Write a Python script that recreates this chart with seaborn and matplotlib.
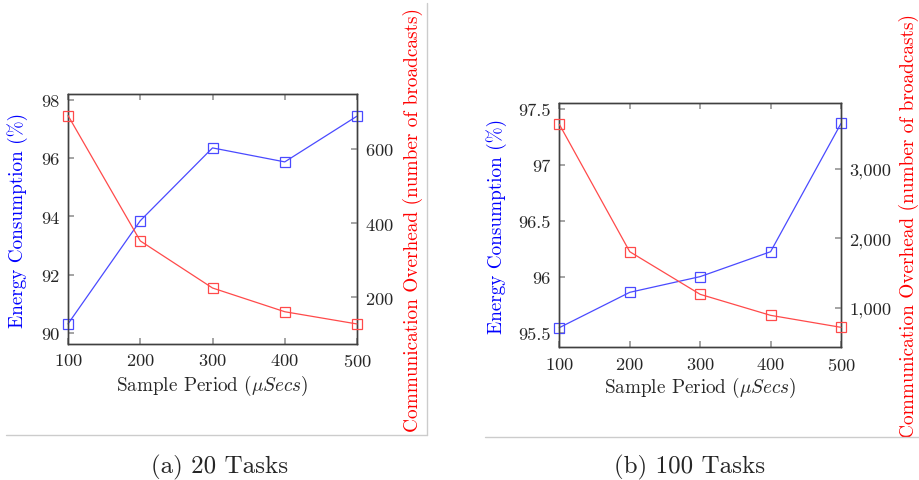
import numpy as np
import pandas as pd
import matplotlib
matplotlib.use("Agg")
import matplotlib.pyplot as plt
from matplotlib.lines import Line2D
from matplotlib.ticker import FuncFormatter
import seaborn as sns

# ── data ─────────────────────────────────────────────────────────────────────

sample_period = [100, 200, 300, 400, 500]

energy_20 = [90.31, 93.85, 96.35, 95.87, 97.44]
overhead_20 = [690, 352, 225, 161, 128]

energy_100 = [95.55, 95.865, 96.005, 96.227, 97.37]
overhead_100 = [3645, 1808, 1193, 890, 717]

captions = ["(a) 20 Tasks", "(b) 100 Tasks"]

# ── style ────────────────────────────────────────────────────────────────────

sns.set_theme(style="ticks")
plt.rcParams["font.family"] = ["cmr10", "DejaVu Serif"]
plt.rcParams["mathtext.fontset"] = "cm"
plt.rcParams["axes.formatter.use_mathtext"] = True
plt.rcParams["axes.unicode_minus"] = False

BLUE = "#4a4aff"
RED = "#ff4a4a"
TICK_FS = 13.3
LAB_FS = 13.8
LAB2_FS = 13.9
CAP_FS = 18

fig = plt.figure(figsize=(9.19, 4.81), dpi=100)

W, H = 919, 481


def box(x0, y0, x1, y1):
    return [x0 / W, 1 - y1 / H, (x1 - x0) / W, (y1 - y0) / H]


panels = [
    dict(px=(68, 95, 357, 345), energy=energy_20, overhead=overhead_20,
         ylim=(89.62, 98.2), yticks=[90, 92, 94, 96, 98],
         ylim2=(74, 748), yticks2=[200, 400, 600],
         lab_x=18, lab2_x=413, xlab_y=386, comma=False),
    dict(px=(559.3, 104.3, 841, 348.3), energy=energy_100, overhead=overhead_100,
         ylim=(95.375, 97.55), yticks=[95.5, 96, 96.5, 97, 97.5],
         ylim2=(429, 3948), yticks2=[1000, 2000, 3000],
         lab_x=497, lab2_x=909, xlab_y=388, comma=True),
]

for p in panels:
    x0, y0, x1, y1 = p["px"]
    ax = fig.add_axes(box(x0, y0, x1, y1))
    ax2 = ax.twinx()

    df = pd.DataFrame({"period": sample_period, "energy": p["energy"], "overhead": p["overhead"]})

    sns.lineplot(data=df, x="period", y="energy", ax=ax, color=BLUE, lw=0.9,
                 marker="s", markersize=7, markerfacecolor="none",
                 markeredgecolor=BLUE, markeredgewidth=0.9, clip_on=False, zorder=3)
    sns.lineplot(data=df, x="period", y="overhead", ax=ax2, color=RED, lw=0.9,
                 marker="s", markersize=7, markerfacecolor="none",
                 markeredgecolor=RED, markeredgewidth=0.9, clip_on=False, zorder=3)

    ax.set_xlim(100, 500)
    ax.set_xticks(sample_period)
    ax.set_ylim(*p["ylim"])
    ax.set_yticks(p["yticks"])
    ax.set_yticklabels([f"{v:g}" for v in p["yticks"]])
    ax2.set_ylim(*p["ylim2"])
    ax2.set_yticks(p["yticks2"])
    if p["comma"]:
        ax2.yaxis.set_major_formatter(FuncFormatter(lambda v, _: f"{int(v):,}"))

    # axis labels, placed by their centre in pixel terms
    w, h = x1 - x0, y1 - y0
    ax.set_xlabel(r"Sample Period ($\mu Secs$)", fontsize=LAB_FS)
    ax.xaxis.set_label_coords(0.5, (y1 - p["xlab_y"]) / h)
    ax.xaxis.label.set_va("center")
    ax.set_ylabel("Energy Consumption (%)", fontsize=LAB_FS, color="blue")
    ax.yaxis.set_label_coords((p["lab_x"] - x0) / w, 0.5)
    ax.yaxis.label.set_va("center")
    ax2.set_ylabel("Communication Overhead (number of broadcasts)", fontsize=LAB2_FS, color="red")
    ax2.yaxis.set_label_coords((p["lab2_x"] - x0) / w, 0.5)
    ax2.yaxis.label.set_va("center")

    ax.tick_params(axis="x", direction="in", top=True, length=4, color="#999999",
                   labelsize=TICK_FS, pad=6)
    ax.tick_params(axis="y", direction="in", right=False, length=4, color="#999999",
                   labelsize=TICK_FS, pad=6)
    ax2.tick_params(axis="y", direction="in", length=4, color="#999999",
                    labelsize=TICK_FS, pad=6)

    for a in (ax, ax2):
        for s in a.spines.values():
            s.set_color("#404040")
            s.set_linewidth(1.0)
            s.set_visible(True)

# ── captions and frame lines ─────────────────────────────────────────────────

fig.text(220 / W, 1 - 467 / H, captions[0], ha="center", va="center", fontsize=CAP_FS)
fig.text(690 / W, 1 - 467 / H, captions[1], ha="center", va="center", fontsize=CAP_FS)

grey = "#cccccc"
fig.add_artist(Line2D([6 / W, 427 / W], [1 - 436 / H, 1 - 436 / H], color=grey, lw=1))
fig.add_artist(Line2D([427 / W, 427 / W], [1 - 4 / H, 1 - 436 / H], color=grey, lw=1))
fig.add_artist(Line2D([485 / W, 1.0], [1 - 437.5 / H, 1 - 437.5 / H], color=grey, lw=1))

fig.savefig("out.png", dpi=100)
